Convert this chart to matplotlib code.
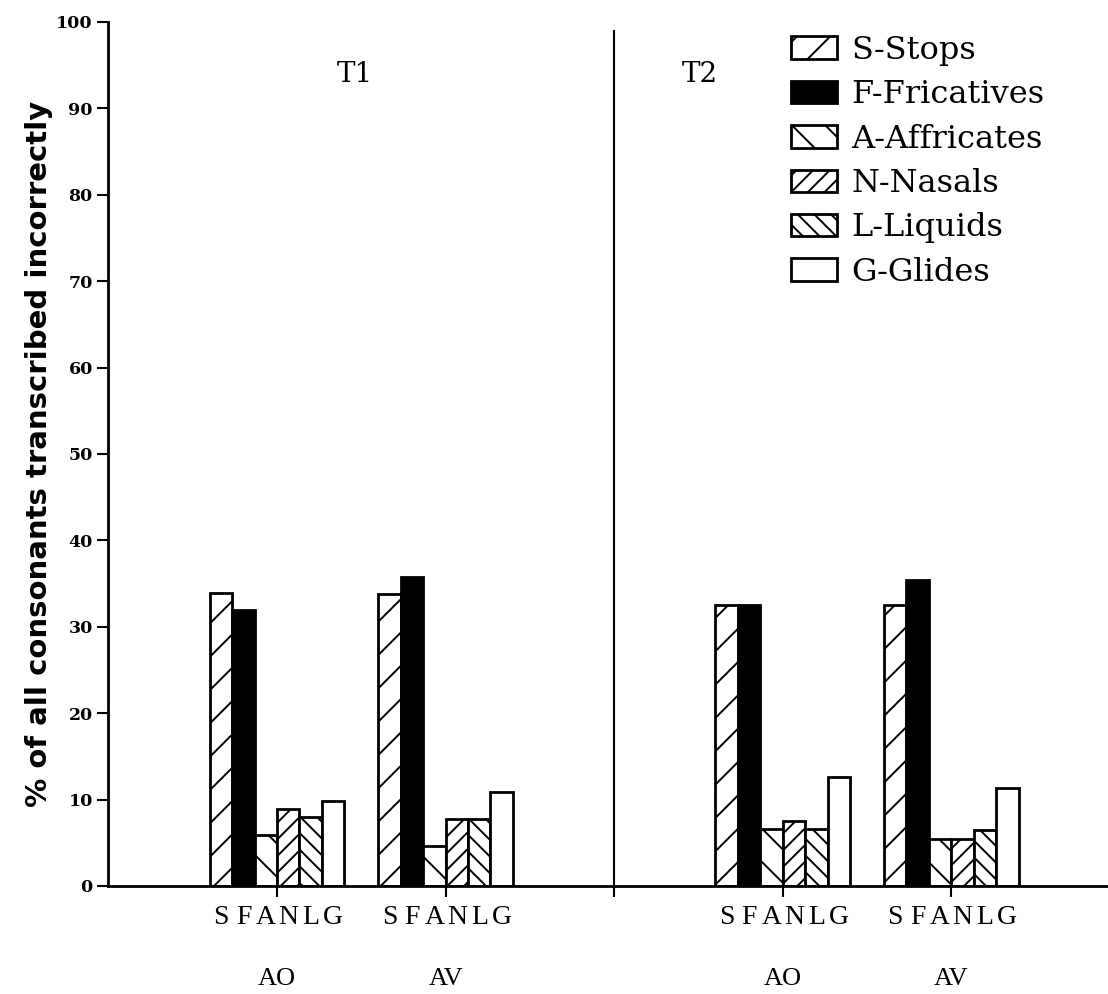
import numpy as np
import matplotlib
matplotlib.use("Agg")
from matplotlib import pyplot as plt
from matplotlib.patches import Patch

# consonant classes and their bar styles
categories = ['S', 'F', 'A', 'N', 'L', 'G']
legend_names = ['S-Stops', 'F-Fricatives', 'A-Affricates', 'N-Nasals', 'L-Liquids', 'G-Glides']
hatches = ['/', '', '\\', '//', '\\\\', '']
fills = ['white', 'black', 'white', 'white', 'white', 'white']

# % of consonants transcribed incorrectly, per test and condition
t1_ao = [33.9, 31.9, 5.9, 8.9, 8.0, 9.8]
t1_av = [33.8, 35.8, 4.6, 7.8, 7.8, 10.9]
t2_ao = [32.5, 32.5, 6.6, 7.5, 6.6, 12.6]
t2_av = [32.5, 35.4, 5.4, 5.4, 6.5, 11.3]

groups = [t1_ao, t1_av, t2_ao, t2_av]
group_labels = ['AO', 'AV', 'AO', 'AV']
group_pos = [0, 1, 3, 4]
divider = 2
panel_titles = ['T1', 'T2']

plt.rcParams['hatch.linewidth'] = 1.4

fig = plt.figure(figsize=(11.08, 9.94), dpi=100)
ax = fig.add_axes([0.0975, 0.1087, 0.9025, 0.8692])

w = 0.133
minor_pos = []
minor_lab = []
for g, vals in zip(group_pos, groups):
    for i, v in enumerate(vals):
        x = g + (i - 2.5) * w
        ax.bar(x, v, width=w, color=fills[i], hatch=hatches[i],
               edgecolor='black', linewidth=2)
        minor_pos.append(x)
        minor_lab.append(categories[i])

# line splitting T1 and T2
ax.axvline(divider, ymin=0, ymax=0.99, color='black', linewidth=1.5)

ax.set_xlim(-1.003, 4.93)
ax.set_ylim(0, 100)

ax.set_yticks(np.arange(0, 101, 10))
ax.tick_params(axis='y', direction='out', length=8, width=1.5, pad=3)
for lab in ax.get_yticklabels():
    lab.set_fontfamily('DejaVu Serif')
    lab.set_fontweight('bold')
    lab.set_fontsize(12.5)

ax.set_xticks(group_pos + [divider])
ax.set_xticklabels(group_labels + [''], fontfamily='Liberation Serif', fontsize=19)
ax.tick_params(axis='x', which='major', direction='out', length=8, width=1.5, pad=51)
ax.set_xticks(minor_pos, minor=True)
ax.set_xticklabels(minor_lab, minor=True, fontfamily='Liberation Serif', fontsize=20)
ax.tick_params(axis='x', which='minor', length=0, pad=14)

for s in ['top', 'right']:
    ax.spines[s].set_visible(False)
ax.spines['left'].set_linewidth(2)
ax.spines['bottom'].set_linewidth(2)

ax.set_ylabel('% of all consonants transcribed incorrectly',
              fontfamily='DejaVu Sans', fontweight='bold', fontsize=21, labelpad=2)

ax.text(0.46, 93.9, panel_titles[0], fontfamily='DejaVu Serif', fontsize=20, ha='center', va='center')
ax.text(2.51, 93.9, panel_titles[1], fontfamily='DejaVu Serif', fontsize=20, ha='center', va='center')

handles = [Patch(facecolor=fills[i], hatch=hatches[i], edgecolor='black', linewidth=2)
           for i in range(6)]
ax.legend(handles, legend_names, loc='upper left', bbox_to_anchor=(0.67, 1.0),
          frameon=False, prop={'family': 'DejaVu Serif', 'size': 23},
          handlelength=1.45, handleheight=0.7, labelspacing=0.42, handletextpad=0.45,
          borderaxespad=0)

fig.savefig('out.png', dpi=100)
